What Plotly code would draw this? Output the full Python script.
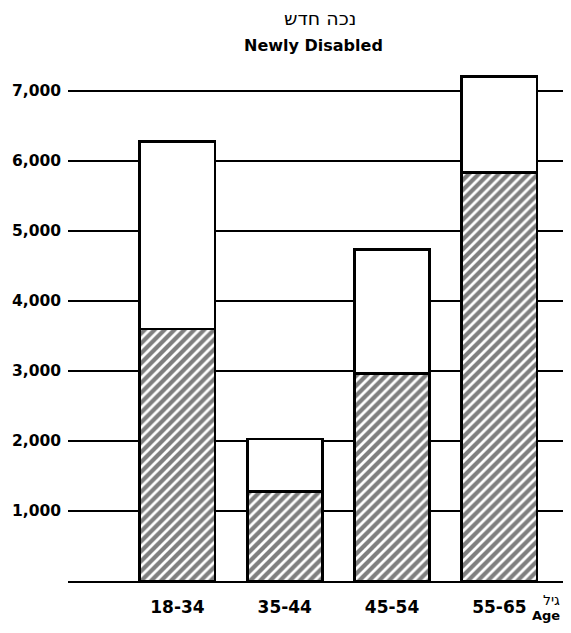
import plotly.graph_objects as go

age_groups = ["18-34", "35-44", "45-54", "55-65"]
total_newly_disabled = [6280, 2030, 4740, 7210]
hatched_part = [3600, 1280, 2970, 5840]
y_ticks = [1000, 2000, 3000, 4000, 5000, 6000, 7000]
y_tick_labels = ["1,000", "2,000", "3,000", "4,000", "5,000", "6,000", "7,000"]
title_he = "נכה חדש"
title_en = "Newly Disabled"
axis_he = "גיל"
axis_en = "Age"

upper_part = [t - h for t, h in zip(total_newly_disabled, hatched_part)]

W, H = 555, 617          # page has an 8px body margin on every side
L, T = 60, 52
B = H - 573
PW, PH = W - L, H - T - B
X_RANGE = [-1.02, -1.02 + PW / 107.3]

def px(xf):   # figure-pixel x -> paper
    return (xf - L) / PW

def py(yf):   # figure-pixel y -> paper
    return 1 - (yf - T) / PH

fig = go.Figure()
fig.add_trace(go.Bar(
    x=age_groups, y=hatched_part, width=0.70,
    marker=dict(color="white", line=dict(color="black", width=2.8),
                pattern=dict(shape="/", fgcolor="black", bgcolor="white", size=7, solidity=0.6)),
    showlegend=False, hoverinfo="skip",
))
fig.add_trace(go.Bar(
    x=age_groups, y=upper_part, width=0.70,
    marker=dict(color="white", line=dict(color="black", width=2.8)),
    showlegend=False, hoverinfo="skip",
))

fig.update_layout(
    width=W, height=H,
    barmode="stack",
    paper_bgcolor="white", plot_bgcolor="white",
    margin=dict(l=L, r=0, t=T, b=B),
    xaxis=dict(
        type="category", range=X_RANGE,
        showgrid=False, showline=True, linecolor="black", linewidth=2,
        ticks="", ticklabelstandoff=10,
        tickfont=dict(family="DejaVu Sans", size=17, color="black", weight="bold"),
    ),
    yaxis=dict(
        range=[0, 7443], tickvals=y_ticks, ticktext=y_tick_labels,
        showgrid=True, gridcolor="black", gridwidth=1.5,
        zeroline=False, showline=False, ticks="", ticklabelstandoff=6,
        tickfont=dict(family="DejaVu Sans", size=15.5, color="black", weight="bold"),
    ),
    annotations=[
        dict(text=title_he, xref="paper", yref="paper", x=px(312), y=py(10),
             xanchor="center", yanchor="middle", showarrow=False,
             font=dict(family="DejaVu Sans", size=19, color="black")),
        dict(text="<b>" + title_en + "</b>", xref="paper", yref="paper", x=px(305), y=py(37),
             xanchor="center", yanchor="middle", showarrow=False,
             font=dict(family="DejaVu Sans", size=16, color="black")),
        dict(text=axis_he, xref="paper", yref="paper", x=px(554), y=py(592),
             xanchor="right", yanchor="middle", showarrow=False,
             font=dict(family="DejaVu Sans", size=14, color="black")),
        dict(text="<b>" + axis_en + "</b>", xref="paper", yref="paper", x=px(554), y=py(607),
             xanchor="right", yanchor="middle", showarrow=False,
             font=dict(family="DejaVu Sans", size=13, color="black")),
    ],
)

fig.write_html("out.html")
